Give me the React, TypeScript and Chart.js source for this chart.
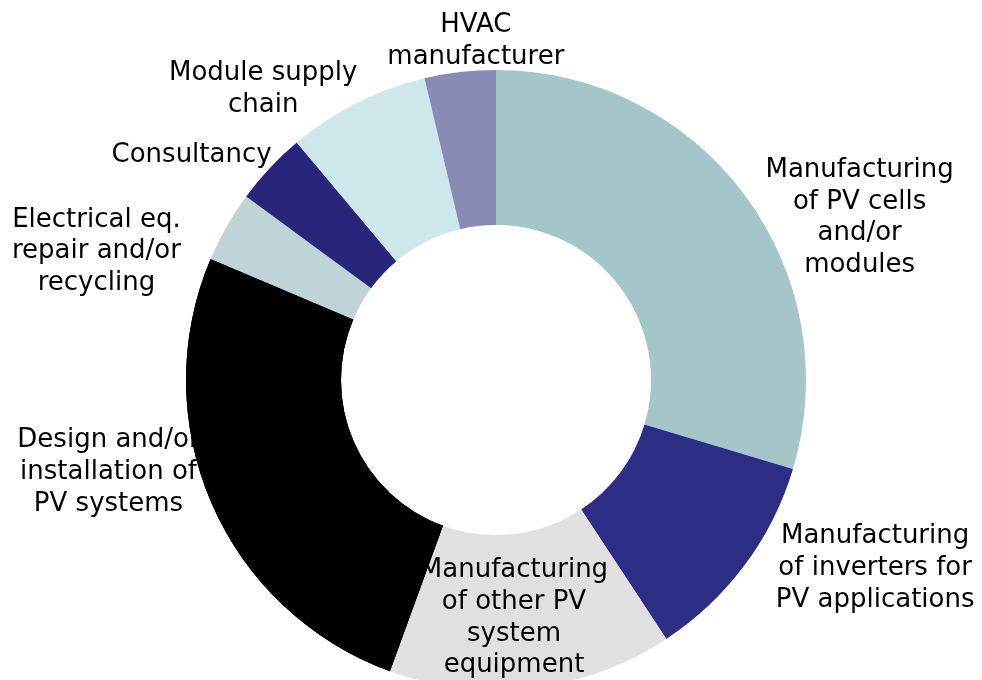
import React, { useEffect, useRef } from "react";
import { Chart, registerables } from "chart.js";

Chart.register(...registerables);

const categories: string[][] = [
  ["Manufacturing", "of PV cells", "and/or", "modules"],
  ["Manufacturing", "of inverters for", "PV applications"],
  ["Manufacturing", "of other PV", "system", "equipment"],
  ["Design and/or", "installation of", "PV systems"],
  ["Electrical eq.", "repair and/or", "recycling"],
  ["Consultancy"],
  ["Module supply", "chain"],
  ["HVAC", "manufacturer"],
];

const shares: number[] = [29.6, 11.1, 14.8, 25.8, 3.7, 3.8, 7.4, 3.7];

const sliceColors: string[] = [
  "#A5C6C9",
  "#2E2D86",
  "#E0E0E0",
  "#000000",
  "#C0D3D6",
  "#27267A",
  "#CDE7EB",
  "#8A8AB6",
];

// label anchor (centre x, first baseline y) relative to chart centre, in units of outer radius
const labelAnchorX: number[] = [1.173, 1.223, 0.058, -1.25, -1.289, -0.982, -0.751, -0.065];
const labelAnchorY: number[] = [-0.655, 0.527, 0.636, 0.217, -0.495, -0.704, -0.968, -1.122];

// slices painted on top of the labels
const slicesAboveLabels: number[] = [3];

const FONT = "26px 'DejaVu Sans', Verdana, sans-serif";
const LINE_HEIGHT = 31.7;

const labelPlugin = {
  id: "outsideLabels",
  afterDatasetsDraw(chart: any) {
    const meta = chart.getDatasetMeta(0);
    const arc0 = meta.data[0];
    if (!arc0) return;
    const { x: cx, y: cy, outerRadius: r } = arc0.getProps(["x", "y", "outerRadius"], true);
    const ctx = chart.ctx;
    ctx.save();
    ctx.font = FONT;
    ctx.fillStyle = "#000000";
    ctx.textAlign = "center";
    ctx.textBaseline = "alphabetic";
    categories.forEach((lines, i) => {
      const ax = cx + labelAnchorX[i] * r;
      const ay = cy + labelAnchorY[i] * r;
      lines.forEach((ln, j) => {
        ctx.fillText(ln, ax, ay + j * LINE_HEIGHT);
      });
    });
    ctx.restore();
    slicesAboveLabels.forEach((idx) => {
      const el = meta.data[idx];
      if (el) {
        ctx.save();
        el.draw(ctx, chart.chartArea);
        ctx.restore();
      }
    });
  },
};

export default function App() {
  const canvasRef = useRef<HTMLCanvasElement | null>(null);

  useEffect(() => {
    const canvas = canvasRef.current;
    if (!canvas) return;
    const chart = new Chart(canvas, {
      type: "doughnut",
      data: {
        labels: categories.map((l) => l.join(" ")),
        datasets: [
          {
            data: shares,
            backgroundColor: sliceColors,
            borderWidth: 0,
          },
        ],
      },
      options: {
        responsive: false,
        animation: false,
        cutout: "50%",
        rotation: 0,
        layout: { padding: { left: 186, right: 176, top: 70, bottom: 70 } },
        plugins: {
          legend: { display: false },
          tooltip: { enabled: false },
        },
      },
      plugins: [labelPlugin],
    });
    return () => chart.destroy();
  }, []);

  return (
    <div
      style={{
        position: "fixed",
        left: 0,
        top: 0,
        width: 982,
        height: 680,
        overflow: "hidden",
        background: "#ffffff",
      }}
    >
      <canvas ref={canvasRef} width={982} height={760} style={{ display: "block" }} />
    </div>
  );
}
